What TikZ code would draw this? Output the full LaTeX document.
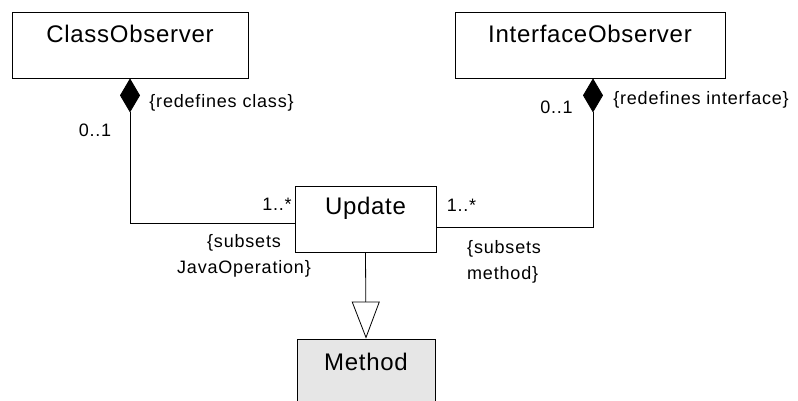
\documentclass[tikz,border=0pt]{standalone}
\usepackage{fontspec}
\setmainfont{Liberation Sans}
\newfontfamily\bigfamily[LetterSpace=3]{Liberation Sans}
\newfontfamily\smallfamily[LetterSpace=4.5]{Liberation Sans}
\usetikzlibrary{arrows.meta}
\definecolor{methodgray}{HTML}{E6E6E6}
\tikzset{
  box/.style={draw=black, line width=0.8pt, fill=white, inner sep=0pt},
  big/.style={font=\bigfamily\fontsize{24}{28}\selectfont, inner sep=0pt},
  small/.style={font=\smallfamily\fontsize{18}{26}\selectfont, inner sep=0pt},
  conn/.style={line width=0.8pt, draw=black},
}
\begin{document}
\begin{tikzpicture}[x=1pt,y=-1pt]
\useasboundingbox (0,0) rectangle (798,401);
% boxes
\node[box, minimum width=236pt, minimum height=66pt] (co) at (130,45) {};
\node[big] (cot) at (130,34) {ClassObserver};
\node[box, minimum width=270pt, minimum height=66pt] (io) at (590,45) {};
\node[big] (iot) at (590,34) {InterfaceObserver};
\node[box, minimum width=141pt, minimum height=66pt] (upd) at (365.5,219) {};
\node[big] (updt) at (365.5,208) {Update};
\node[box, fill=methodgray, minimum width=138pt, minimum height=90pt] (meth) at (366,384) {};
\node[big] (metht) at (366,362) {Method};
% connectors
\draw[conn, {Diamond[length=34pt,width=20pt,fill=black]}-] (co.south) |- ([yshift=-4pt]upd.west);
\draw[conn, {Diamond[length=34pt,width=20pt,fill=black]}-] ([xshift=3pt]io.south) |- ([yshift=-8pt]upd.east);
\draw[conn, -{Triangle[open,length=37pt,width=28pt,fill=white]}] (upd.south) -- (meth.north);
% labels
\node[small] (l1) at (221.5,103) {\{redefines class\}};
\node[small] (l2) at (95,130) {0..1};
\node[small] (l3) at (277,204) {1..*};
\node[small, align=center] (l4) at (244,255.5) {\{subsets\\JavaOperation\}};
\node[small] (l5) at (556.5,107) {0..1};
\node[small] (l6) at (701,100) {\{redefines interface\}};
\node[small] (l7) at (461.5,205) {1..*};
\node[small, align=left, anchor=west] (l8) at (467,261.5) {\{subsets\\method\}};
\end{tikzpicture}
\end{document}
